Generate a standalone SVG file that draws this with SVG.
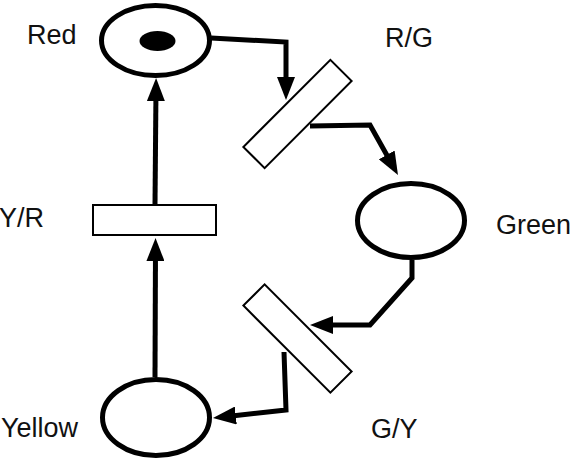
<svg xmlns="http://www.w3.org/2000/svg" width="578" height="465" viewBox="0 0 578 465">
<style>
.place{fill:#fff;stroke:#000;stroke-width:5}
.trans{fill:#fff;stroke:#000;stroke-width:2}
.arc{fill:none;stroke:#000;stroke-width:5;stroke-linejoin:miter;marker-end:url(#ah)}
.lbl{font-family:"Liberation Sans",Arial,sans-serif;font-size:27px;fill:#111}
</style>
<defs>
<marker id="ah" markerUnits="userSpaceOnUse" markerWidth="23" markerHeight="18" refX="13" refY="9" orient="auto">
<path d="M0,0 L23,9 L0,18 z" fill="#000"/>
</marker>
</defs>
<g id="connectors">
<path class="arc" d="M211,38 L286,42 L286,90"/>
<path class="arc" d="M310,126 L370,125 L393.1,166.3"/>
<path class="arc" d="M412,260 L412,278 L370,325 L320,325"/>
<path class="arc" d="M284,352 L286,410 L222.9,416.9"/>
<path class="arc" d="M155,377 L155.5,248"/>
<path class="arc" d="M155,204 L156,88"/>
</g>
<g id="red">
<ellipse class="place" cx="155.5" cy="40.5" rx="54" ry="35"/>
<ellipse cx="157.5" cy="41" rx="18" ry="10" fill="#000"/>
<text class="lbl" x="27" y="44">Red</text>
</g>
<g id="green">
<ellipse class="place" cx="411" cy="220.5" rx="53.5" ry="37"/>
<text class="lbl" x="496" y="234">Green</text>
</g>
<g id="yellow">
<ellipse class="place" cx="156" cy="417.5" rx="53.5" ry="38"/>
<text class="lbl" x="1" y="437">Yellow</text>
</g>
<g id="rg">
<rect class="trans" x="-61.5" y="-15" width="123" height="30" transform="translate(297.5,114) rotate(-45)"/>
<text class="lbl" x="385" y="47">R/G</text>
</g>
<g id="gy">
<rect class="trans" x="-61.5" y="-15" width="123" height="30" transform="translate(297.5,338.5) rotate(45)"/>
<text class="lbl" x="371" y="438">G/Y</text>
</g>
<g id="yr">
<rect class="trans" x="93" y="205" width="123" height="30"/>
<text class="lbl" x="-1" y="227">Y/R</text>
</g>
</svg>
